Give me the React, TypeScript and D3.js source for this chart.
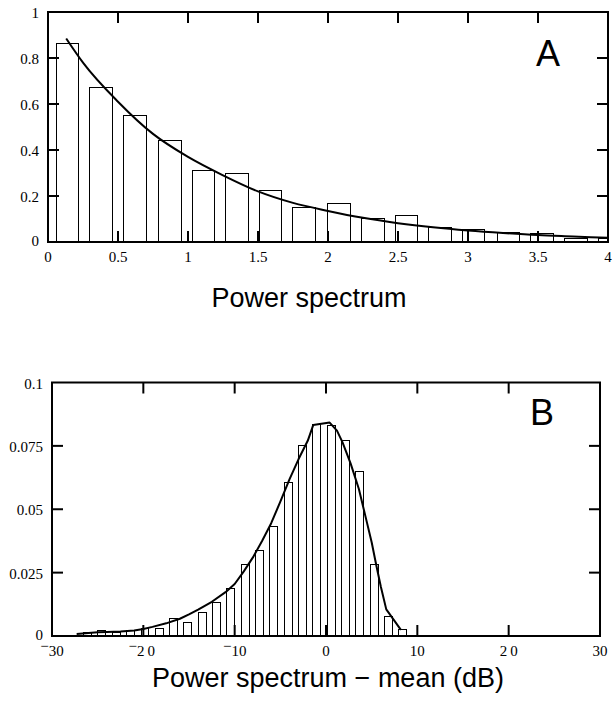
import { useEffect, useRef } from 'react'
import * as d3 from 'd3'

const W = 613, H = 702

// Panel A: power spectrum histogram + exponential fit
const binsA = [0.14, 0.38, 0.62, 0.87, 1.11, 1.35, 1.59, 1.83, 2.08, 2.32, 2.56, 2.80, 3.04, 3.29, 3.53, 3.77, 4.01]
const valuesA = [0.865, 0.67, 0.548, 0.443, 0.313, 0.297, 0.226, 0.149, 0.167, 0.104, 0.114, 0.061, 0.053, 0.04, 0.038, 0.017, 0.017]
const fitAx = [0.13, 0.25, 0.5, 0.75, 1.0, 1.25, 1.5, 1.75, 2.0, 2.25, 2.5, 2.75, 3.0, 3.25, 3.5, 3.75, 4.0]
const fitAy = [0.885, 0.78, 0.61, 0.47, 0.37, 0.29, 0.22, 0.17, 0.135, 0.105, 0.082, 0.064, 0.05, 0.039, 0.03, 0.024, 0.018]
const ticksAx = [0, 0.5, 1, 1.5, 2, 2.5, 3, 3.5, 4]
const ticksAy = [0, 0.2, 0.4, 0.6, 0.8, 1]

// Panel B: power spectrum - mean (dB)
const binsB = [-26.1, -24.53, -22.96, -21.39, -19.82, -18.26, -16.69, -15.12, -13.55, -11.98, -10.41, -8.85,
  -7.28, -5.71, -4.14, -2.57, -1.0, 0.57, 2.13, 3.7, 5.27, 6.84, 8.41]
const valuesB = [0.0012, 0.002, 0.0015, 0.0022, 0.003, 0.003, 0.007, 0.0055, 0.0094, 0.0132, 0.0188, 0.0284,
  0.0338, 0.0433, 0.0607, 0.075, 0.0834, 0.0831, 0.0773, 0.0647, 0.0283, 0.0078, 0.0024]
const fitBx = [-27.3, -26, -25, -24, -22.5, -21, -20, -19, -17.5, -16, -15, -14, -12.5, -11, -10, -9, -8, -7, -6,
  -5, -4, -3, -2, -1.4, 0.4, 1.2, 1.8, 2.7, 3.6, 4.4, 5.0, 5.5, 6.0, 6.6, 8.2]
const fitBy = [0.0008, 0.0012, 0.0015, 0.0016, 0.0018, 0.0022, 0.0028, 0.0036, 0.005, 0.0068, 0.0085, 0.0104,
  0.0135, 0.0173, 0.0205, 0.0255, 0.031, 0.0375, 0.0445, 0.053, 0.0618, 0.0698, 0.077, 0.0832, 0.0842, 0.081,
  0.0765, 0.068, 0.058, 0.046, 0.037, 0.028, 0.0195, 0.0105, 0.0024]
const ticksBx = [-30, -20, -10, 0, 10, 20, 30]
const ticksBy = [0, 0.025, 0.05, 0.075, 0.1]

const SERIF = '"Liberation Serif", "Times New Roman", serif'
const SANS = '"Liberation Sans", Arial, Helvetica, sans-serif'

function drawPanel(svg, p) {
  const { l, r, t, b } = p.box
  const x = d3.scaleLinear().domain(p.xDomain).range([l, r])
  const y = d3.scaleLinear().domain(p.yDomain).range([b, t])
  const g = svg.append('g')

  g.append('clipPath').attr('id', `clip-${p.id}`)
    .append('rect').attr('x', l).attr('y', t).attr('width', r - l).attr('height', b - t)

  // histogram bars
  g.append('g').attr('clip-path', `url(#clip-${p.id})`)
    .selectAll('rect').data(p.bins).join('rect')
    .attr('x', d => x(d - p.barW / 2))
    .attr('y', (d, i) => y(p.values[i]))
    .attr('width', d => x(d + p.barW / 2) - x(d - p.barW / 2))
    .attr('height', (d, i) => y(0) - y(p.values[i]))
    .attr('fill', '#fff').attr('stroke', '#000').attr('stroke-width', 1)
    .attr('shape-rendering', 'crispEdges')

  // fitted curve
  const line = d3.line().x(d => x(d[0])).y(d => y(d[1])).curve(p.curve)
  g.append('path')
    .attr('d', line(p.fitX.map((v, i) => [v, p.fitY[i]])))
    .attr('fill', 'none').attr('stroke', '#000').attr('stroke-width', 2)
    .attr('stroke-linejoin', 'round')

  // inner ticks on all four sides
  const TL = 11
  const innerX = p.xTicks.slice(1, -1)
  const innerY = p.yTicks.slice(1, -1)
  const tk = g.append('g').attr('stroke', '#000').attr('stroke-width', 2)
  innerX.forEach(v => {
    tk.append('line').attr('x1', x(v)).attr('x2', x(v)).attr('y1', b).attr('y2', b - TL)
    tk.append('line').attr('x1', x(v)).attr('x2', x(v)).attr('y1', t).attr('y2', t + TL)
  })
  innerY.forEach(v => {
    tk.append('line').attr('x1', l).attr('x2', l + TL).attr('y1', y(v)).attr('y2', y(v))
    tk.append('line').attr('x1', r).attr('x2', r - TL).attr('y1', y(v)).attr('y2', y(v))
  })

  // frame
  g.append('rect').attr('x', l).attr('y', t).attr('width', r - l).attr('height', b - t)
    .attr('fill', 'none').attr('stroke', '#000').attr('stroke-width', 2)

  // tick labels
  const lab = g.append('g').attr('font-family', SERIF).attr('font-size', 15).attr('fill', '#000')
  p.yTicks.forEach(v => {
    lab.append('text').attr('x', l - 9).attr('y', y(v) + (v === 0 ? 4 : 6))
      .attr('text-anchor', 'end').text(String(v))
  })
  p.xTicks.forEach(v => {
    const txt = lab.append('text').attr('x', x(v)).attr('y', b + 20).attr('text-anchor', 'middle')
    const spaced = Math.abs(v) === 20
    if (v < 0) {
      // raised minus sign, as in the original typesetting
      txt.append('tspan').attr('dy', -5).text('\u2212')
      const d = txt.append('tspan').attr('dy', 5).text(String(-v))
      if (spaced) d.attr('letter-spacing', 3)
    } else {
      txt.text(String(v))
      if (spaced) txt.attr('letter-spacing', 3).attr('dx', 1.5)
    }
  })

  // axis title and panel letter
  g.append('text').attr('x', p.titleX).attr('y', p.titleY).attr('text-anchor', 'middle')
    .attr('font-family', SANS).attr('font-size', 27).text(p.title)
  g.append('text').attr('x', p.letterX).attr('y', p.letterY).attr('text-anchor', 'middle')
    .attr('font-family', SANS).attr('font-size', 36).text(p.letter)
}

export default function App() {
  const ref = useRef(null)

  useEffect(() => {
    if (!ref.current) return
    const svg = d3.select(ref.current)
    svg.selectAll('*').remove()

    drawPanel(svg, {
      id: 'a', box: { l: 48, r: 608, t: 12, b: 242 },
      xDomain: [0, 4], yDomain: [0, 1],
      bins: binsA, values: valuesA, barW: 0.162,
      fitX: fitAx, fitY: fitAy, curve: d3.curveMonotoneX,
      xTicks: ticksAx, yTicks: ticksAy,
      title: 'Power spectrum', titleX: 309, titleY: 307,
      letter: 'A', letterX: 548, letterY: 66,
    })

    drawPanel(svg, {
      id: 'b', box: { l: 52, r: 600, t: 382.5, b: 636 },
      xDomain: [-30, 30], yDomain: [0, 0.1],
      bins: binsB, values: valuesB, barW: 0.87,
      fitX: fitBx, fitY: fitBy, curve: d3.curveLinear,
      xTicks: ticksBx, yTicks: ticksBy,
      title: 'Power spectrum \u2212 mean (dB)', titleX: 328, titleY: 687,
      letter: 'B', letterX: 542, letterY: 425,
    })
  }, [])

  return (
    <svg ref={ref} width={W} height={H}
      style={{ position: 'absolute', left: 0, top: 0, background: '#fff' }} />
  )
}
